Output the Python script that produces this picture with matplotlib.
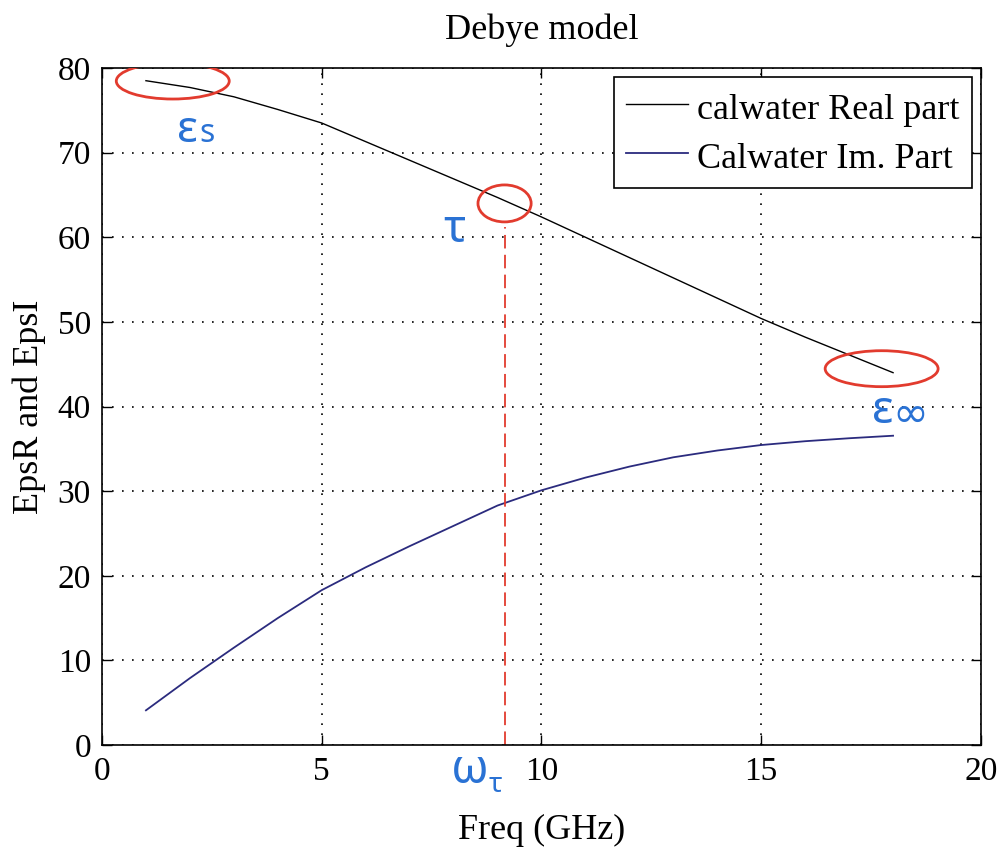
import matplotlib
matplotlib.use("Agg")
import matplotlib.pyplot as plt
from matplotlib.patches import Ellipse

# ---- data ----
freq = [1, 2, 3, 4, 5, 6, 7, 8, 9, 10, 11, 12, 13, 14, 15, 16, 17, 18]
eps_real = [78.5, 77.7, 76.6, 75.1, 73.5, 71.3, 69.1, 66.9, 64.7, 62.4,
            60.0, 57.6, 55.2, 52.8, 50.4, 48.2, 46.1, 44.0]
eps_imag = [4.1, 7.9, 11.5, 15.0, 18.3, 21.0, 23.5, 25.9, 28.3, 30.1,
            31.6, 32.9, 34.0, 34.8, 35.45, 35.9, 36.25, 36.55]
legend_labels = ["calwater Real part", "Calwater Im. Part"]
x_ticks = [0, 5, 10, 15, 20]
y_ticks = [0, 10, 20, 30, 40, 50, 60, 70, 80]
f_tau = 9.17
tau_line_top = 61.2

serif = ["Liberation Serif", "DejaVu Serif"]
sans = ["Noto Sans", "DejaVu Sans"]
blue = "#2a72d4"
red = "#e23b2e"

fig = plt.figure(figsize=(10.02, 8.47), dpi=100)
ax = fig.add_axes([0.1018, 0.1204, 0.8772, 0.7993])

ax.plot(freq, eps_real, color="black", lw=1.0, label=legend_labels[0])
ax.plot(freq, eps_imag, color="#2b2b7e", lw=1.3, label=legend_labels[1])

ax.vlines(f_tau, 0, tau_line_top, colors=red, linestyles=(0, (7.5, 3.5)), lw=1.3)

for (cx, cy, w, h) in [(1.61, 78.46, 2.57, 4.25), (9.16, 64.0, 1.21, 4.37), (17.74, 44.47, 2.57, 4.25)]:
    ax.add_patch(Ellipse((cx, cy), w, h, fill=False, edgecolor=red, lw=2.0, zorder=4))

ax.set_xlim(0, 20)
ax.set_ylim(0, 80)
ax.set_xticks(x_ticks)
ax.set_yticks(y_ticks)
ax.grid(True, color="black", linestyle=(0, (1, 5)), lw=1.2)
ax.tick_params(direction="in", length=7.5, width=1, top=True, right=True,
               labelsize=24, pad=8)
for lab in ax.get_xticklabels() + ax.get_yticklabels():
    lab.set_family(serif)
for s in ax.spines.values():
    s.set_linewidth(1.2)

ax.set_title("Debye model", family=serif, fontsize=26, pad=21)
ax.set_xlabel("Freq (GHz)", family=serif, fontsize=26, labelpad=20)
ax.set_ylabel("EpsR and EpsI", family=serif, fontsize=26, labelpad=8)

leg = ax.legend(loc="upper right", prop={"family": serif, "size": 26},
                fancybox=False, edgecolor="black", framealpha=1,
                handlelength=1.7, handletextpad=0.25, borderpad=0.35,
                labelspacing=0.3, handleheight=1.1, borderaxespad=0.25)
leg.get_frame().set_linewidth(1.2)

# blue annotations
ax.text(1.71, 71.25, "ε", color=blue, family=sans, fontsize=32, va="baseline", ha="left")
ax.text(2.21, 71.25, "s", color=blue, family=sans, fontsize=23, va="baseline", ha="left")
ax.text(7.76, 59.4, "τ", color=blue, family=sans, fontsize=33, va="baseline", ha="left")
ax.text(7.93, -4.45, "ω", color=blue, family=sans, fontsize=34, va="baseline", ha="left", clip_on=False)
ax.text(8.80, -5.55, "τ", color=blue, family=sans, fontsize=20, va="baseline", ha="left", clip_on=False)
ax.text(17.52, 38.05, "ε", color=blue, family=sans, fontsize=33, va="baseline", ha="left")
ax.text(17.98, 37.6, "∞", color=blue, family=sans, fontsize=31, va="baseline", ha="left", clip_on=False)

fig.savefig("out.png", dpi=100)
